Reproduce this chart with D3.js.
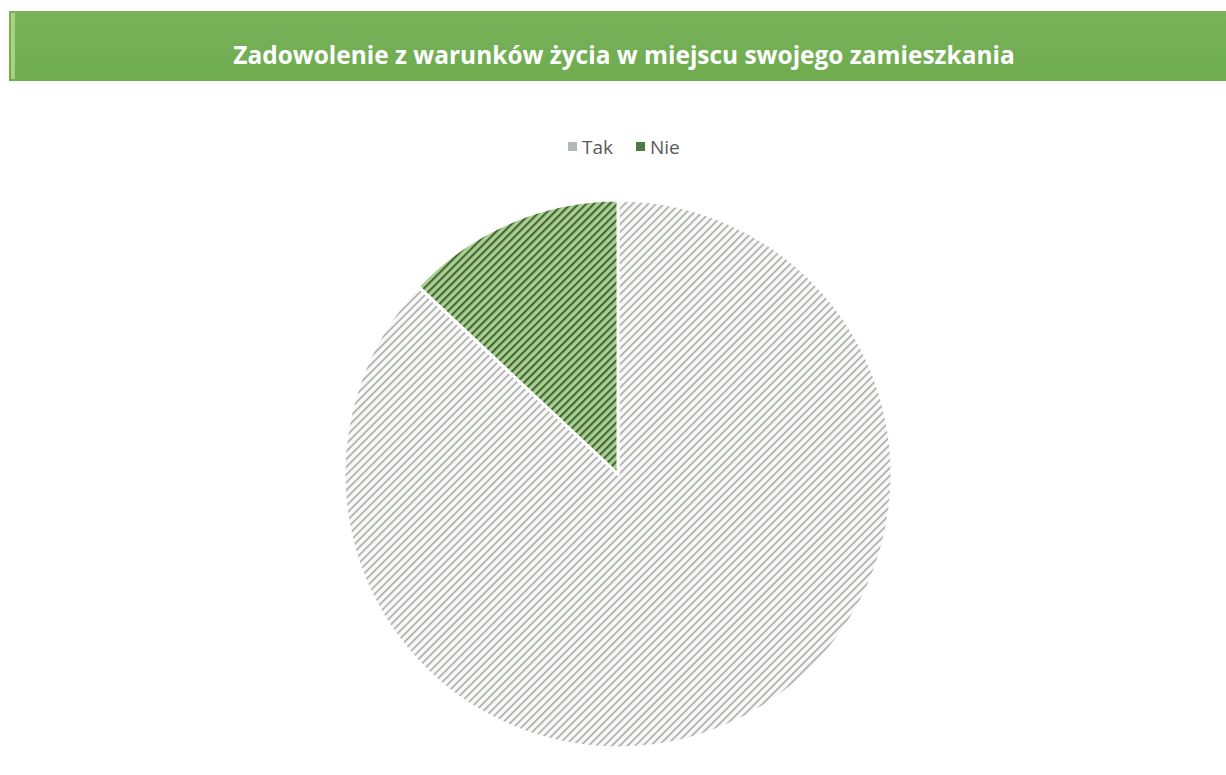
<!DOCTYPE html>
<html><head><meta charset="utf-8">
<script src="https://cdn.jsdelivr.net/npm/d3@7"></script>
<style>html,body{margin:0;padding:0;background:#fff;overflow:hidden}</style>
</head><body>
<svg id="chart" width="1226" height="775"></svg>
<script>
const title = "Zadowolenie z warunków życia w miejscu swojego zamieszkania";
const categories = ["Tak", "Nie"];
const values = [87, 13];
const fills = ["#f7f8f7", "#a9d18e"];
const lineColors = ["#adb0ad", "#44633a"];

const svg = d3.select("#chart");
const defs = svg.append("defs");

// title bar gradient
const g1 = defs.append("linearGradient").attr("id","tb").attr("x1",0).attr("y1",0).attr("x2",0).attr("y2",1);
g1.append("stop").attr("offset","0%").attr("stop-color","#78b35a");
g1.append("stop").attr("offset","100%").attr("stop-color","#6fab4f");

svg.append("rect").attr("x",9).attr("y",11).attr("width",1230).attr("height",70).attr("fill","url(#tb)");
svg.append("rect").attr("x",11).attr("y",13).attr("width",4).attr("height",66).attr("fill","#b5dc8a").attr("opacity",0.8);

const t = svg.append("text").attr("x",624).attr("y",64).attr("text-anchor","middle")
  .attr("font-family","Open Sans, sans-serif").attr("font-weight","bold").attr("font-size",22)
  .attr("fill","#ffffff").text(title);
const tw = t.node().getComputedTextLength();
t.attr("font-size", 22 * 782 / tw);

// hatch patterns
categories.forEach((c,i)=>{
  const p = defs.append("pattern").attr("id","hatch"+i).attr("patternUnits","userSpaceOnUse")
    .attr("width",5.5).attr("height",5.5).attr("patternTransform","rotate(-45)");
  p.append("rect").attr("width",5.5).attr("height",5.5).attr("fill",fills[i]);
  p.append("rect").attr("x",0).attr("y",0).attr("width",5.5).attr("height",i===0?1.7:2.1).attr("fill",lineColors[i]);
});

// legend
const legend = svg.append("g").attr("font-family","Open Sans, sans-serif").attr("font-size",19).attr("fill","#595959");
const lx = [568, 636];
categories.forEach((c,i)=>{
  legend.append("rect").attr("x",lx[i]).attr("y",142).attr("width",9).attr("height",9)
    .attr("fill", i===0 ? "#b4b8b4" : "#4f7a45");
  legend.append("text").attr("x",lx[i]+14).attr("y",153.5).text(c);
});

// pie
const cx = 618, cy = 474, r = 274;
const pie = d3.pie().sort(null).startAngle(0).endAngle(2*Math.PI);
const arc = d3.arc().innerRadius(0).outerRadius(r);
const g = svg.append("g").attr("transform",`translate(${cx},${cy})`);
g.selectAll("path").data(pie(values)).join("path")
  .attr("d",arc)
  .attr("fill",(d,i)=>`url(#hatch${i})`)
  .attr("stroke","#ffffff").attr("stroke-width",3).attr("stroke-linejoin","round");
</script>
</body></html>
